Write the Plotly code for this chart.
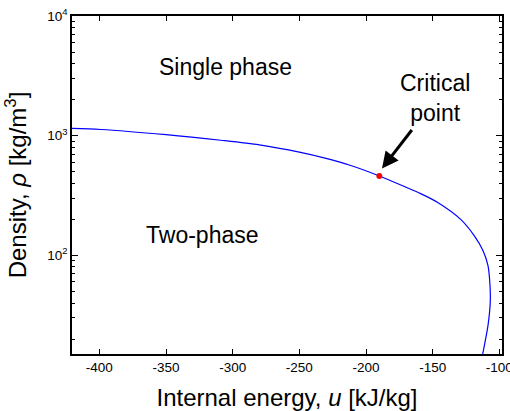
import plotly.graph_objects as go
import numpy as np

# Saturation boundary: internal energy u [kJ/kg] vs density rho [kg/m^3]
u_sat = [-420.5, -399, -350, -309, -280, -250, -230, -212, -190, -170, -159,
         -146.5, -129, -119, -112.3, -108.5, -107, -106.8, -108.5, -111.2, -112.5]
rho_sat = [1150, 1127, 1020, 916, 838, 728, 646, 566, 461, 371, 328,
           278, 200, 147, 110, 82, 56, 41, 26, 17.7, 15]

u_crit = [-190]
rho_crit = [461]

x_tickvals = [-400, -350, -300, -250, -200, -150, -100]
x_ticktext = ["-400", "-350", "-300", "-250", "-200", "-150", "-100"]
y_tickvals = [100, 1000, 10000]
y_ticktext = ["10<sup>2</sup>", "10<sup>3</sup>", "10<sup>4</sup>"]
y_minor = [m * 10 ** d for d in (1, 2, 3) for m in range(2, 10)]

FONT = "Liberation Sans, Arial, sans-serif"

fig = go.Figure()
fig.add_trace(go.Scatter(x=u_sat, y=rho_sat, mode="lines",
                         line=dict(color="#0000ff", width=1.2, shape="spline", smoothing=0.8),
                         hoverinfo="skip", showlegend=False))
fig.add_trace(go.Scatter(x=u_crit, y=rho_crit, mode="markers",
                         marker=dict(color="#ff0000", size=6),
                         showlegend=False))

fig.update_layout(
    width=510, height=411,
    margin=dict(l=72, r=8, t=16, b=57),
    paper_bgcolor="white", plot_bgcolor="white",
    font=dict(family=FONT, color="black", size=13),
    xaxis=dict(range=[-420.5, -98], tickmode="array", tickvals=x_tickvals, ticktext=x_ticktext,
               ticks="inside", ticklen=5, tickcolor="black", showgrid=False, zeroline=False,
               showline=True, linecolor="black", linewidth=1.5, mirror="ticks",
               tickfont=dict(size=13.5), ticklabeloverflow="allow", automargin=False,
               title=dict(text="Internal energy, <i>u</i> [kJ/kg]", font=dict(size=24), standoff=18)),
    yaxis=dict(type="log", range=[np.log10(15), 4], tickmode="array", tickvals=y_tickvals,
               ticktext=y_ticktext, ticks="inside", ticklen=6, tickcolor="black",
               showgrid=False, zeroline=False, showline=True, linecolor="black", linewidth=1.5,
               mirror="ticks", tickfont=dict(size=13.5), automargin=False,
               minor=dict(tickmode="array", tickvals=y_minor, ticks="inside", ticklen=3,
                          tickcolor="black", showgrid=False),
               title=dict(text="Density, <i>ρ</i> [kg/m<sup>3</sup>]", font=dict(size=24), standoff=14)),
)

fig.add_annotation(x=-305.5, y=3.573, xref="x", yref="y", text="Single phase",
                   showarrow=False, font=dict(size=23))
fig.add_annotation(x=-322.75, y=2.167, xref="x", yref="y", text="Two-phase",
                   showarrow=False, font=dict(size=23))
fig.add_annotation(x=-148, y=3.318, xref="x", yref="y", text="Critical<br>point",
                   showarrow=False, font=dict(size=23), align="center")
fig.add_annotation(x=-188, y=np.log10(532), xref="x", yref="y", text="",
                   showarrow=True, arrowhead=2, arrowsize=1.1, arrowwidth=3, arrowcolor="black",
                   ax=31, ay=-40)

fig.write_html("out.html")
